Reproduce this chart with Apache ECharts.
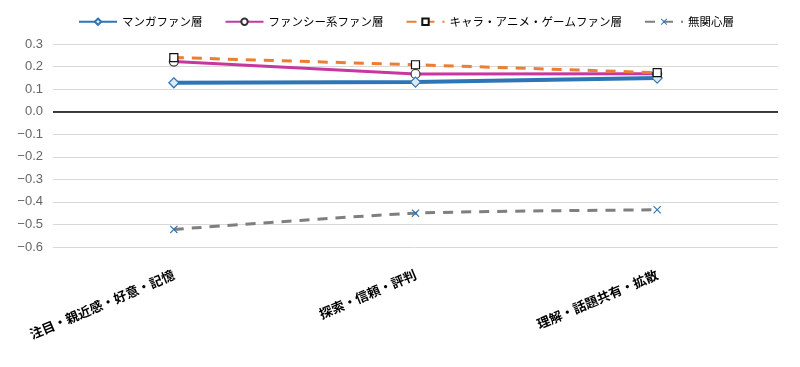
<!DOCTYPE html>
<html><head><meta charset="utf-8">
<script src="https://cdn.jsdelivr.net/npm/echarts@6/dist/echarts.min.js"></script>
<style>html,body{margin:0;padding:0;background:#fff}#c{width:800px;height:367px}</style>
</head><body><div id="c"></div>
<script>
const categories = ['注目・親近感・好意・記憶', '探索・信頼・評判', '理解・話題共有・拡散'];
const seriesNames = ['マンガファン層', 'ファンシー系ファン層', 'キャラ・アニメ・ゲームファン層', '無関心層'];
const manga = [0.128, 0.131, 0.149];
const fancy = [0.222, 0.167, 0.168];
const chara = [0.240, 0.208, 0.173];
const indifferent = [-0.522, -0.450, -0.435];
const yTicks = {min: -0.6, max: 0.3, interval: 0.1};

const xMark = 'path://M0,1 L1,0 L5,4 L9,0 L10,1 L6,5 L10,9 L9,10 L5,6 L1,10 L0,9 L4,5 Z';
const font = '"Noto Sans CJK JP", "Noto Sans", sans-serif';

const chart = echarts.init(document.getElementById('c'), null, {renderer: 'canvas'});
chart.setOption({
  animation: false,
  textStyle: {fontFamily: font},
  legend: {
    left: 73, top: 11,
    itemWidth: 38, itemHeight: 8, itemGap: 22,
    textStyle: {fontSize: 11.5, color: '#000', fontFamily: font},
    data: seriesNames
  },
  grid: {left: 53, right: 22, top: 44, bottom: 120},
  xAxis: {
    type: 'category', data: categories, boundaryGap: true,
    axisLine: {show: false}, axisTick: {show: false},
    axisLabel: {rotate: 23, margin: 27, fontSize: 13, fontWeight: 'bold', color: '#000', fontFamily: font}
  },
  yAxis: {
    type: 'value', min: yTicks.min, max: yTicks.max, interval: yTicks.interval,
    axisLine: {show: false}, axisTick: {show: false},
    splitLine: {lineStyle: {color: '#d9d9d9', width: 1}},
    axisLabel: {fontSize: 13, color: '#666', margin: 10, fontFamily: '"Liberation Sans", Arial, sans-serif',
      formatter: v => (Math.abs(v) < 1e-9 ? '0.0' : v.toFixed(1).replace('-', '−'))}
  },
  series: [
    {
      name: seriesNames[0], type: 'line', data: manga, z: 5,
      symbol: 'diamond', symbolSize: 10,
      lineStyle: {color: '#2e75b6', width: 4},
      itemStyle: {color: '#dde9f6', borderColor: '#2e75b6', borderWidth: 1.2},
      markLine: {
        silent: true, symbol: 'none', label: {show: false},
        lineStyle: {color: '#000', width: 1.5, type: 'solid'},
        data: [{yAxis: 0}]
      }
    },
    {
      name: seriesNames[1], type: 'line', data: fancy, z: 4,
      symbol: 'circle', symbolSize: 9,
      lineStyle: {color: '#c8379f', width: 3},
      itemStyle: {color: '#ffffff', borderColor: '#333', borderWidth: 1.2}
    },
    {
      name: seriesNames[2], type: 'line', data: chara, z: 6,
      symbol: 'rect', symbolSize: 8,
      lineStyle: {color: '#ed7d31', width: 3, type: [10, 8]},
      itemStyle: {color: '#ffffff', borderColor: '#111', borderWidth: 1.2}
    },
    {
      name: seriesNames[3], type: 'line', data: indifferent, z: 3, smooth: 0.2,
      symbol: xMark, symbolSize: 8,
      lineStyle: {color: '#7f7f7f', width: 3, type: [10, 8]},
      itemStyle: {color: '#2e75b6'}
    }
  ]
});
</script></body></html>
